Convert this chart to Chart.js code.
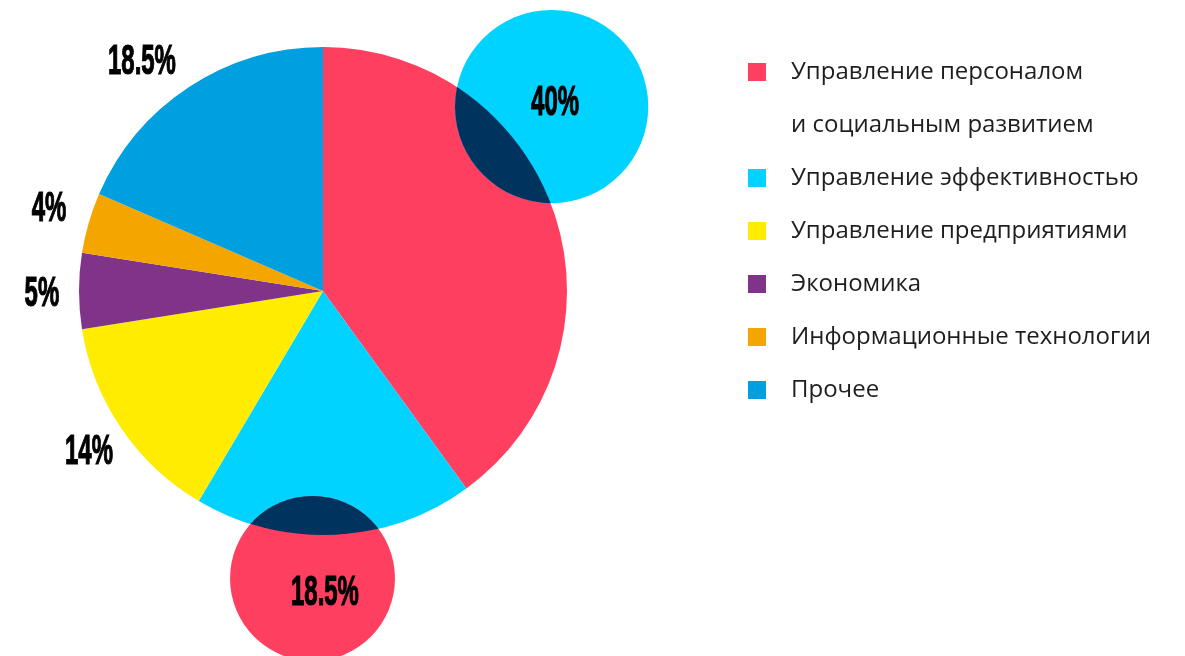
<!DOCTYPE html>
<html><head><meta charset="utf-8">
<script src="https://cdn.jsdelivr.net/npm/chart.js@4.4.1/dist/chart.umd.min.js"></script>
<style>html,body{margin:0;padding:0;background:#fff;}#wrap{width:1185px;height:656px;position:relative;}</style>
</head><body><div id="wrap"><canvas id="c" width="1185" height="656"></canvas></div>
<script>
const categories = [
  ["Управление персоналом", "и социальным развитием"],
  ["Управление эффективностью"],
  ["Управление предприятиями"],
  ["Экономика"],
  ["Информационные технологии"],
  ["Прочее"]
];
const values = [40, 18.5, 14, 5, 4, 18.5];
const valueLabels = ["40%", "18.5%", "14%", "5%", "4%", "18.5%"];
const colors = ["#FF3F60", "#00D3FF", "#FFEC00", "#7F3489", "#F5A500", "#00A0E0"];
const NAVY = "#00345F";

// decorative bubbles (in units of pie radius, relative to pie centre)
const bubbles = [
  {dx: 0.937, dy: -0.756, r: 0.396, color: 1},
  {dx: -0.043, dy: 1.178, r: 0.338, color: 0}
];
// label anchor positions (in units of pie radius, relative to pie centre)
const labelPos = [
  [0.951, -0.775], [0.008, 1.234], [-0.959, 0.656],
  [-1.152, 0.008], [-1.123, -0.340], [-0.742, -0.943]
];

function drawLabel(ctx, text, x, y) {
  ctx.save();
  ctx.translate(x, y);
  ctx.scale(0.57, 1);
  ctx.font = "bold 42px 'Liberation Sans', Arial, sans-serif";
  ctx.textAlign = "center";
  ctx.textBaseline = "middle";
  ctx.fillStyle = "#000";
  ctx.strokeStyle = "#000";
  ctx.lineWidth = 1.2;
  ctx.fillText(text, 0, 1.5);
  ctx.strokeText(text, 0, 1.5);
  ctx.restore();
}

const overlayPlugin = {
  id: "overlay",
  afterDatasetsDraw(chart) {
    const ctx = chart.ctx;
    const meta = chart.getDatasetMeta(0);
    const a0 = meta.data[0];
    const cx = a0.x, cy = a0.y, R = a0.outerRadius;
    bubbles.forEach(b => {
      const bx = cx + b.dx * R, by = cy + b.dy * R, br = b.r * R;
      ctx.save();
      ctx.beginPath();
      ctx.arc(bx, by, br, 0, Math.PI * 2);
      ctx.fillStyle = colors[b.color];
      ctx.fill();
      ctx.clip();
      ctx.beginPath();
      ctx.arc(cx, cy, R, 0, Math.PI * 2);
      ctx.fillStyle = NAVY;
      ctx.fill();
      ctx.restore();
    });
    meta.data.forEach((arc, i) => {
      drawLabel(ctx, valueLabels[i], cx + labelPos[i][0] * R, cy + labelPos[i][1] * R);
    });

    // legend
    ctx.save();
    ctx.font = "24px 'Open Sans', Lato, sans-serif";
    ctx.textBaseline = "middle";
    ctx.textAlign = "left";
    let y = 72;
    const step = 53;
    categories.forEach((lines, i) => {
      ctx.fillStyle = colors[i];
      ctx.fillRect(748, y - 9, 18, 18);
      ctx.fillStyle = "#1e1e1e";
      lines.forEach(line => {
        ctx.fillText(line, 791, y);
        y += step;
      });
    });
    ctx.restore();
  }
};

new Chart(document.getElementById("c"), {
  type: "pie",
  data: {
    labels: categories.map(l => l.join(" ")),
    datasets: [{ data: values, backgroundColor: colors, borderWidth: 0 }]
  },
  options: {
    responsive: false,
    animation: false,
    layout: { padding: { left: 79, right: 618, top: 47, bottom: 121 } },
    plugins: { legend: { display: false }, tooltip: { enabled: false } }
  },
  plugins: [overlayPlugin]
});
</script></body></html>
